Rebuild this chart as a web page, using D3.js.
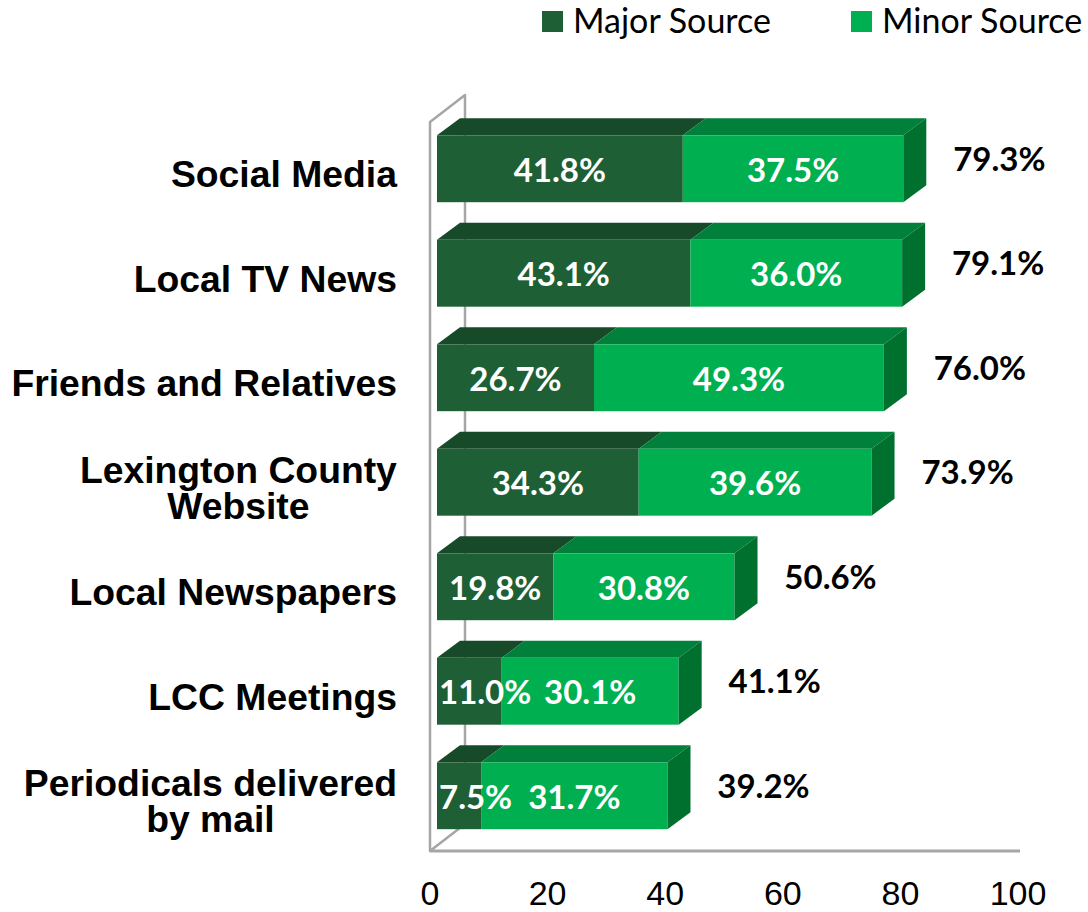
<!DOCTYPE html>
<html>
<head>
<meta charset="utf-8">
<script src="https://cdn.jsdelivr.net/npm/d3@7"></script>
<style>
  body { margin: 0; background: #ffffff; }
  svg { display: block; }
</style>
</head>
<body>
<svg id="chart" width="1088" height="912"></svg>
<script>
// ---- data ----
const categories = [
  "Social Media",
  "Local TV News",
  "Friends and Relatives",
  "Lexington County\nWebsite",
  "Local Newspapers",
  "LCC Meetings",
  "Periodicals delivered\nby mail"
];
const seriesNames = ["Major Source", "Minor Source"];
const majorSource = [41.8, 43.1, 26.7, 34.3, 19.8, 11.0, 7.5];
const minorSource = [37.5, 36.0, 49.3, 39.6, 30.8, 30.1, 31.7];
const xTicks = [0, 20, 40, 60, 80, 100];

// ---- styling ----
const colors = {
  major: { front: "#1E5F35", top: "#174A29", side: "#123D22" },
  minor: { front: "#00B050", top: "#00803A", side: "#00702F" }
};
const wallColor = "#A6A6A6";
const labelFont = "Lato, 'Open Sans', sans-serif";
const catFont = "'Liberation Sans', Arial, sans-serif";

const svg = d3.select("#chart");

// rows for the stack layout
const rows = categories.map((c, i) => ({ cat: c, major: majorSource[i], minor: minorSource[i] }));
const keys = ["major", "minor"];
const stacked = d3.stack().keys(keys)(rows);

// ---- scales ----
const x = d3.scaleLinear().domain([0, 100]).range([430, 1018]);   // floor front edge
const barShift = 7;                                                 // bars sit slightly behind the floor edge
const xb = v => x(v) + barShift;
const y = d3.scaleBand().domain(d3.range(categories.length))
  .range([116.5, 848]).paddingInner(0.36).paddingOuter(0.18);
const bw = y.bandwidth();

// oblique depth of bars and of the wall/floor box
const bdx = 23, bdy = 17;
const wdx = 35, wdy = 27;
const floorY = 851, wallTop = 122;

// ---- wall and floor outline ----
const wall = svg.append("g").attr("fill", "none").attr("stroke", wallColor)
  .attr("stroke-width", 2.5).attr("stroke-linejoin", "round");
wall.append("path").attr("d",
  `M${x(0)},${floorY} L${x(0)},${wallTop} L${x(0) + wdx},${wallTop - wdy} L${x(0) + wdx},${floorY - wdy} Z`);
wall.append("line")
  .attr("x1", x(0)).attr("x2", x(100) + 2)
  .attr("y1", floorY).attr("y2", floorY)
  .attr("stroke-width", 3);

// ---- 3D stacked bars ----
const barsG = svg.append("g");
stacked.forEach((layer, li) => {
  const key = layer.key;
  const col = colors[key];
  const g = barsG.append("g").attr("class", "series-" + key);
  // top faces
  g.selectAll("polygon.top").data(layer).join("polygon")
    .attr("class", "top")
    .attr("fill", col.top)
    .attr("points", (d, i) => {
      const x0 = xb(d[0]), x1 = xb(d[1]), yt = y(i);
      return [[x0, yt], [x1, yt], [x1 + bdx, yt - bdy], [x0 + bdx, yt - bdy]].map(p => p.join(",")).join(" ");
    });
  // front faces
  g.selectAll("rect.front").data(layer).join("rect")
    .attr("class", "front")
    .attr("fill", col.front)
    .attr("x", d => xb(d[0]))
    .attr("y", (d, i) => y(i))
    .attr("width", d => xb(d[1]) - xb(d[0]))
    .attr("height", bw);
  // right side face on the outermost segment
  if (li === stacked.length - 1) {
    g.selectAll("polygon.side").data(layer).join("polygon")
      .attr("class", "side")
      .attr("fill", col.side)
      .attr("points", (d, i) => {
        const x1 = xb(d[1]), yt = y(i);
        return [[x1, yt], [x1 + bdx, yt - bdy], [x1 + bdx, yt + bw - bdy], [x1, yt + bw]].map(p => p.join(",")).join(" ");
      });
  }
});

// ---- segment value labels ----
const segLabels = svg.append("g")
  .attr("font-family", labelFont).attr("font-weight", 700).attr("font-size", 33)
  .attr("fill", "#ffffff").attr("text-anchor", "middle");
stacked.forEach(layer => {
  layer.forEach((d, i) => {
    const val = d[1] - d[0];
    const t = segLabels.append("text")
      .attr("y", y(i) + bw / 2 + 1)
      .attr("dy", "0.36em")
      .text(val.toFixed(1) + "%");
    const w = t.node().getComputedTextLength();
    let cx = (xb(d[0]) + xb(d[1])) / 2;
    cx = Math.max(cx, xb(0) + 2 + w / 2);   // keep labels inside the plot on the left
    t.attr("x", cx);
  });
});

// ---- total labels ----
const totals = rows.map(r => r.major + r.minor);
svg.append("g")
  .attr("font-family", labelFont).attr("font-weight", 700).attr("font-size", 33)
  .attr("fill", "#000000").attr("text-anchor", "middle")
  .selectAll("text").data(totals).join("text")
  .attr("x", d => xb(d) + 96)
  .attr("y", (d, i) => y(i) + bw / 2 - 10)
  .attr("dy", "0.36em")
  .text(d => d.toFixed(1) + "%");

// ---- category labels ----
const catG = svg.append("g")
  .attr("font-family", catFont).attr("font-weight", 700).attr("font-size", 37.3)
  .attr("fill", "#000000").attr("text-anchor", "middle");
const lineH = 36;
categories.forEach((c, i) => {
  const lines = c.split("\n");
  const t = catG.append("text");
  const cy = y(i) + bw / 2 + 5;
  lines.forEach((ln, k) => {
    t.append("tspan").attr("x", 0)
      .attr("y", cy + (k - (lines.length - 1) / 2) * lineH)
      .attr("dy", "0.36em")
      .text(ln);
  });
  const w = t.node().getBBox().width;
  t.selectAll("tspan").attr("x", 397 - w / 2);
});

// ---- x axis tick labels ----
svg.append("g")
  .attr("font-family", catFont).attr("font-size", 34).attr("fill", "#000000")
  .attr("text-anchor", "middle")
  .selectAll("text").data(xTicks).join("text")
  .attr("x", d => x(d))
  .attr("y", 905)
  .text(d => d);

// ---- legend ----
const legend = svg.append("g").attr("font-family", labelFont).attr("font-size", 34).attr("fill", "#000");
const legendX = [542, 851];
seriesNames.forEach((name, i) => {
  const g = legend.append("g").attr("transform", `translate(${legendX[i]},0)`);
  g.append("rect").attr("x", 0).attr("y", 11).attr("width", 21).attr("height", 21)
    .attr("fill", colors[keys[i]].front);
  g.append("text").attr("x", 31).attr("y", 33).text(name);
});
</script>
</body>
</html>
